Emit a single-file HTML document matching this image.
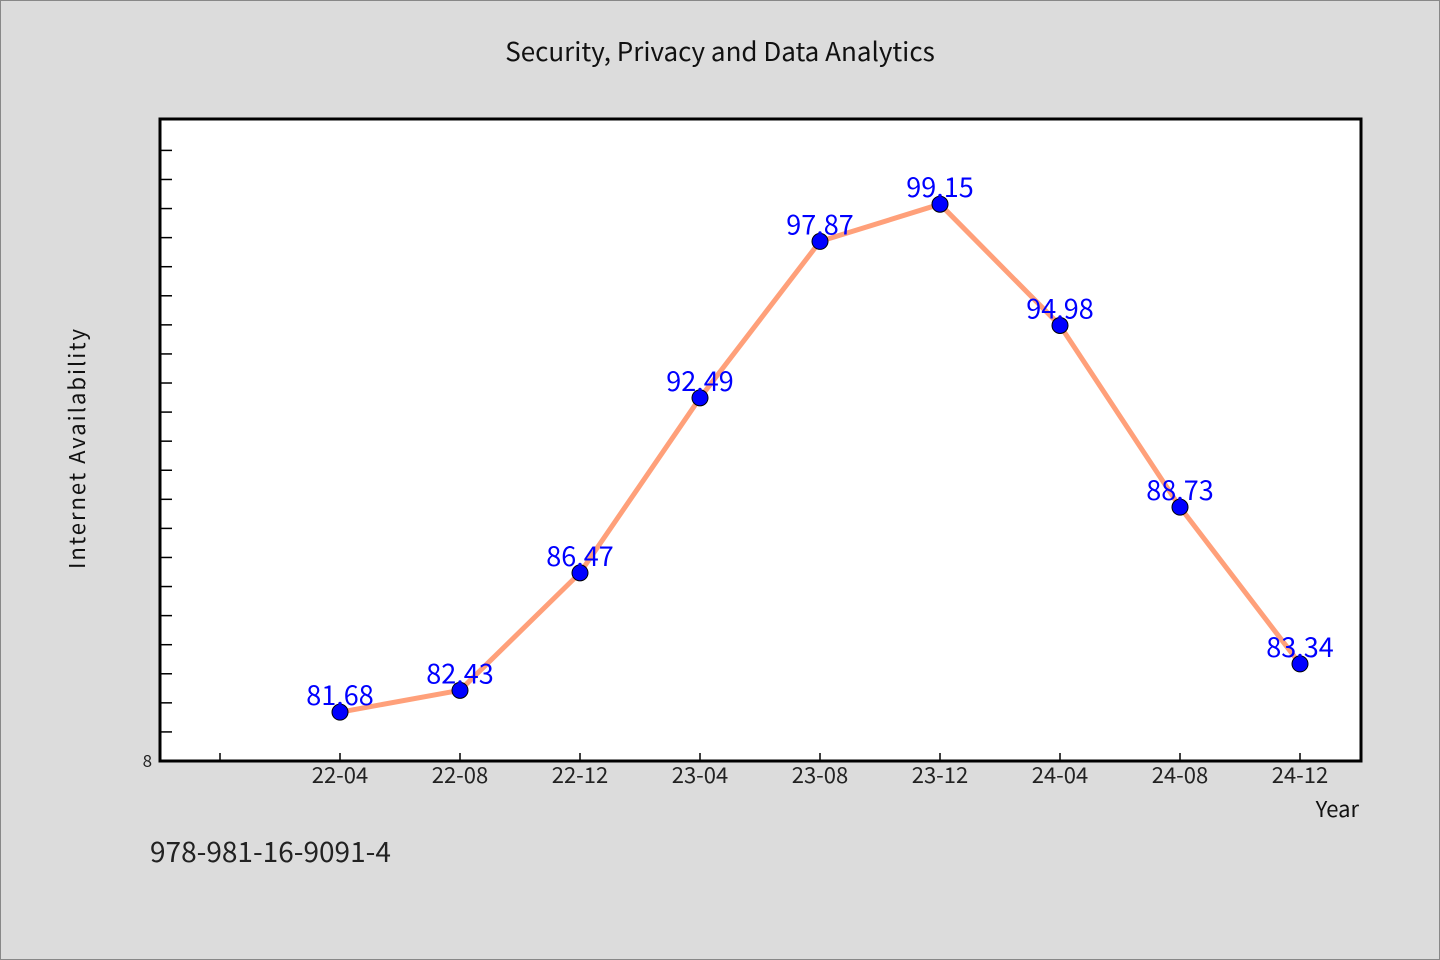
<!DOCTYPE html>
<html><head><meta charset="utf-8"><style>
html,body{margin:0;padding:0;background:#dcdcdc;}
svg{display:block;font-family:"WenQuanYi Zen Hei","Noto Sans CJK SC","Liberation Sans",sans-serif;}
</style></head><body>
<svg id="chart" width="1440" height="960" viewBox="0 0 1440 960">
<rect x="0.5" y="0.5" width="1439" height="959" fill="#dcdcdc" stroke="#888"/>
<text x="720" y="61" text-anchor="middle" font-size="26" fill="#111">Security, Privacy and Data Analytics</text>
<rect x="160" y="119" width="1201" height="642" fill="#fff" stroke="#000" stroke-width="3"/>
<g id="yticks"></g>
<g id="xticks"></g>
<text transform="translate(85,448) rotate(-90)" text-anchor="middle" font-size="22" fill="#111" letter-spacing="2">Internet Availability</text>
<text x="1359" y="817" text-anchor="end" font-size="22" fill="#111">Year</text>
<text x="150" y="862" font-size="28" fill="#222">978-981-16-9091-4</text>
<g id="series"></g>
</svg>
<script>
const categories = ["22-04","22-08","22-12","23-04","23-08","23-12","24-04","24-08","24-12"];
const values = [81.68,82.43,86.47,92.49,97.87,99.15,94.98,88.73,83.34];
const yMin = 80, yMax = 102.08;
const ns = "http://www.w3.org/2000/svg";
const plotL = 160, plotR = 1361, plotT = 119, plotB = 761;
function y(v){return plotB - (v - yMin) / (yMax - yMin) * (plotB - plotT);}
function x(i){return 340 + 120 * i;}
function mk(tag, attrs, parent){const e=document.createElementNS(ns,tag);for(const k in attrs)e.setAttribute(k,attrs[k]);parent.appendChild(e);return e;}
const yt=document.getElementById('yticks');
for(let v=81; v<=101; v++){
  const t=mk('line',{x1:plotL,x2:plotL+12,y1:y(v),y2:y(v),stroke:'#000','stroke-width':1.5},yt);
  
  
}
const yl=mk('text',{x:152,y:767,'text-anchor':'end','font-size':17,fill:'#222'},yt);
yl.textContent='8';


const xt=document.getElementById('xticks');
for(let i=-1;i<categories.length;i++){
  const t=mk('line',{x1:x(i),x2:x(i),y1:plotB,y2:plotB-8,stroke:'#000','stroke-width':1.5},xt);
  
  
  if(i>=0){
    const l=mk('text',{x:x(i),y:783,'text-anchor':'middle','font-size':22,fill:'#222'},xt);
    l.textContent=categories[i];
    
    
  }
}
const s=document.getElementById('series');
const pl=mk('polyline',{points:values.map((v,i)=>x(i)+','+y(v)).join(' '),fill:'none',stroke:'#ffa07a','stroke-width':5,'stroke-linejoin':'round'},s);


values.forEach((v,i)=>{
  const c=mk('circle',{cx:x(i),cy:y(v),r:8,fill:'#0000ff',stroke:'#000','stroke-width':1},s);
  
  
  const l=mk('text',{x:x(i),y:y(v)-7,'text-anchor':'middle','font-size':27,fill:'#0000ff'},s);
  l.textContent=v.toFixed(2);
  
  
});
</script>
</body></html>
